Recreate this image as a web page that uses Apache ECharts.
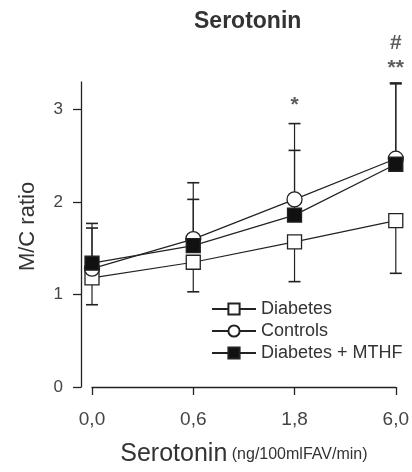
<!DOCTYPE html>
<html>
<head>
<meta charset="utf-8">
<script src="https://cdn.jsdelivr.net/npm/echarts@6/dist/echarts.min.js"></script>
<style>html,body{margin:0;padding:0;background:#fff}#c{width:412px;height:472px}</style>
</head>
<body>
<div id="c"></div>
<script>
const categories = ['0,0', '0,6', '1,8', '6,0'];
const diabetes = [1.18, 1.35, 1.57, 1.80];
const controls = [1.28, 1.60, 2.03, 2.47];
const mthf = [1.34, 1.53, 1.86, 2.41];
const diabetesLow = [0.89, 1.03, 1.14, 1.23];
const controlsHigh = [1.77, 2.21, 2.85, 3.29];
const mthfHigh = [1.72, 2.03, 2.56, 3.28];
const yTicks = [0, 1, 2, 3];
const annotations = [['1,8', 3.05, '*'], ['6,0', 3.45, '**'], ['6,0', 3.72, '#']];

const FONT = 'Liberation Sans, Arial, sans-serif';
const INK = '#222';

function errSeries(name, vals, ends) {
  return {
    type: 'custom', name: name + '_err', z: 1, silent: true, clip: false,
    data: categories.map((c, i) => [i, vals[i], ends[i]]),
    renderItem: function (params, api) {
      const p0 = api.coord([api.value(0), api.value(1)]);
      const p1 = api.coord([api.value(0), api.value(2)]);
      return {
        type: 'group', children: [
          { type: 'line', shape: { x1: p0[0], y1: p0[1], x2: p1[0], y2: p1[1] }, style: { stroke: INK, lineWidth: 1.2 } },
          { type: 'line', shape: { x1: p1[0] - 6, y1: p1[1], x2: p1[0] + 6, y2: p1[1] }, style: { stroke: INK, lineWidth: 1.6 } }
        ]
      };
    }
  };
}

function lineSeries(name, data, symbol, fill, size) {
  return {
    type: 'line', name: name, data: data, z: 3,
    symbol: symbol, symbolSize: size, showAllSymbol: true,
    lineStyle: { color: INK, width: 1.2 },
    itemStyle: { color: fill, borderColor: INK, borderWidth: 1.3, opacity: 1 },
    emphasis: { disabled: true }
  };
}

const chart = echarts.init(document.getElementById('c'), null, { renderer: 'canvas' });
chart.setOption({
  animation: false,
  backgroundColor: '#fff',
  title: {
    text: 'Serotonin', left: 189, top: 5,
    textStyle: { fontFamily: FONT, fontSize: 23, fontWeight: 'bold', color: '#333' }
  },
  grid: { left: 92, right: 12, top: 82, bottom: 85 },
  legend: {
    orient: 'vertical', left: 206, top: 295, itemWidth: 44, itemHeight: 14, itemGap: 4,
    data: ['Diabetes', 'Controls', 'Diabetes + MTHF'],
    textStyle: { fontFamily: FONT, fontSize: 18, color: '#333' }
  },
  xAxis: {
    type: 'category', data: categories, boundaryGap: false,
    axisLine: { lineStyle: { color: INK, width: 1.3 } },
    axisTick: { show: true, length: 8, lineStyle: { color: INK, width: 1.3 }, alignWithLabel: true },
    axisLabel: { fontFamily: FONT, fontSize: 19, color: '#444', margin: 23 },
    name: '{a|Serotonin}{b| (ng/100mlFAV/min)}', nameLocation: 'middle', nameGap: 55,
    nameTextStyle: {
      rich: {
        a: { fontFamily: FONT, fontSize: 25, color: '#333' },
        b: { fontFamily: FONT, fontSize: 16, color: '#333' }
      }
    }
  },
  yAxis: {
    type: 'value', min: 0, max: 3.3, offset: 11,
    splitLine: { show: false },
    axisLine: { show: true, lineStyle: { color: INK, width: 1.3 } },
    axisTick: { show: true, length: 8, customValues: yTicks, lineStyle: { color: INK, width: 1.3 } },
    axisLabel: { customValues: yTicks, fontFamily: FONT, fontSize: 17, color: '#444', margin: 18 },
    name: 'M/C ratio', nameLocation: 'middle', nameGap: 42,
    nameTextStyle: { fontFamily: FONT, fontSize: 22, color: '#333', padding: [0, 0, 0, 16] }
  },
  series: [
    errSeries('Diabetes', diabetes, diabetesLow),
    errSeries('Controls', controls, controlsHigh),
    errSeries('MTHF', mthf, mthfHigh),
    lineSeries('Diabetes', diabetes, 'rect', '#fff', 14),
    lineSeries('Controls', controls, 'circle', '#fff', 15),
    lineSeries('Diabetes + MTHF', mthf, 'rect', '#111', 14),
    {
      type: 'scatter', name: 'sig', data: annotations, clip: false, symbolSize: 0, silent: true,
      label: {
        show: true, position: 'inside', formatter: p => p.data[2],
        fontFamily: FONT, fontSize: 21, fontWeight: 'bold', color: '#333'
      }
    }
  ]
});
</script>
</body>
</html>
